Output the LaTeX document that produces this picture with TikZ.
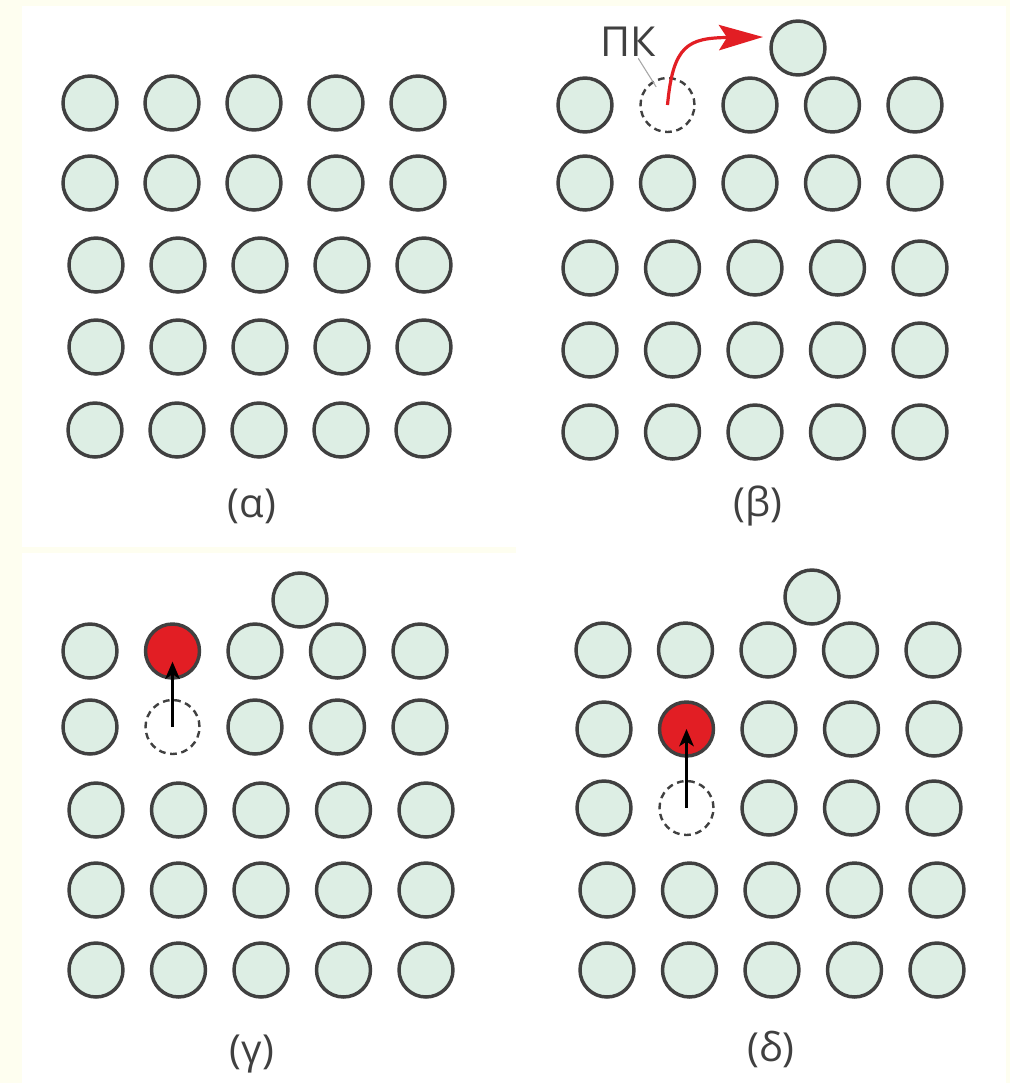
\documentclass[tikz,border=0pt]{standalone}
\usepackage{fontspec}
\setmainfont{Open Sans}
\usetikzlibrary{arrows.meta}
\definecolor{cream}{RGB}{254,254,240}
\definecolor{mint}{RGB}{221,238,228}
\definecolor{rim}{RGB}{64,64,64}
\definecolor{hot}{RGB}{226,30,36}

\begin{document}
\begin{tikzpicture}[
  x=0.75pt, y=-0.75pt,
  atom/.style={circle, draw=rim, fill=mint, line width=2.6pt, minimum size=40.5pt, inner sep=0pt},
  hole/.style={circle, draw=rim, dash pattern=on 5pt off 3.5pt, line width=1.8pt, minimum size=40.5pt, inner sep=0pt},
  moved/.style={atom, fill=hot},
  tag/.style={font=\fontsize{30}{34}\selectfont, text=rim},
  >={Stealth[length=13pt, width=11pt, inset=3.5pt]}
]
\useasboundingbox (0,0) rectangle (1010,1083);
\fill[cream] (0,0) rectangle (1010,1083);
\fill[white] (22,6) rectangle (1006,1083);
\fill[cream] (22,547) rectangle (516,553);

% (alpha) perfect lattice
\foreach \r/\y/\x in {1/103/90, 2/183/90, 3/265/96, 4/347/96, 5/430/95}
  \foreach \c in {1,...,5}
    \node[atom] (a-\r-\c) at ({\x+82*(\c-1)},\y) {};
\node[tag] (la) at (252,506) {(α)};

% (beta) vacancy
\foreach \r/\y/\x in {1/105/585, 2/183/585, 3/268/590, 4/350/590, 5/432/590}
  \foreach \c in {1,...,5} {
    \ifnum\r\c=12
      \node[hole] (b-\r-\c) at ({\x+82.5*(\c-1)},\y) {};
    \else
      \node[atom] (b-\r-\c) at ({\x+82.5*(\c-1)},\y) {};
    \fi
  }
\node[atom] (b-top) at (798,48) {};
\node[font=\fontsize{31}{34}\selectfont, text=rim, inner sep=1pt] (pk) at (628,42) {ПК};
\draw[gray!70, line width=0.8pt, shorten >=16pt] (pk) -- (b-1-2.center);
\coordinate (jump) at (763,37);
\draw[hot, line width=2.4pt, -{Stealth[length=33pt, width=19pt, inset=6pt]}]
  (b-1-2.center) .. controls (673,45) and (688,38) .. (jump);
\node[tag] (lb) at (758,506) {(β)};

% (gamma) first jump
\foreach \r/\y/\x in {1/651/90, 2/727/90, 3/810/96, 4/890/96, 5/970/96}
  \foreach \c in {1,...,5} {
    \ifnum\r\c=12
      \node[moved] (g-\r-\c) at ({\x+82.5*(\c-1)},\y) {};
    \else\ifnum\r\c=22
      \node[hole] (g-\r-\c) at ({\x+82.5*(\c-1)},\y) {};
    \else
      \node[atom] (g-\r-\c) at ({\x+82.5*(\c-1)},\y) {};
    \fi\fi
  }
\node[atom] (g-top) at (300,600) {};
\draw[black, line width=1.6pt, ->, shorten >=8pt] (g-2-2.center) -- (g-1-2.center);
\node[tag] (lg) at (252,1054) {(γ)};

% (delta) second jump
\foreach \r/\y/\x in {1/650/603, 2/729/604, 3/808/604, 4/890/607, 5/970/607}
  \foreach \c in {1,...,5} {
    \ifnum\r\c=22
      \node[moved] (d-\r-\c) at ({\x+82.5*(\c-1)},\y) {};
    \else\ifnum\r\c=32
      \node[hole] (d-\r-\c) at ({\x+82.5*(\c-1)},\y) {};
    \else
      \node[atom] (d-\r-\c) at ({\x+82.5*(\c-1)},\y) {};
    \fi\fi
  }
\node[atom] (d-top) at (812,597) {};
\draw[black, line width=1.6pt, ->] (d-3-2.center) -- (d-2-2.center);
\node[tag] (ld) at (771,1049) {(δ)};
\end{tikzpicture}
\end{document}
